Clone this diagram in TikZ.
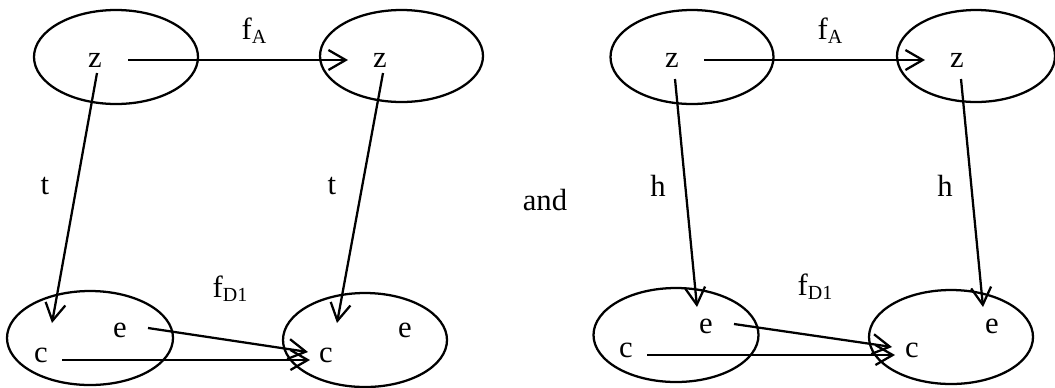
\documentclass[tikz,border=0pt]{standalone}
\usepackage{fontspec}
\setmainfont{Liberation Serif}
\usetikzlibrary{arrows.meta,shapes.geometric}
\tikzset{
  >={Straight Barb[length=13pt,width=15pt]},
  set/.style 2 args={ellipse,draw,line width=1.7pt,inner sep=0pt,
    minimum width={1.5pt*#1},minimum height={1.5pt*#2}},
  elem/.style={inner sep=0pt,font=\fontsize{23}{27}\selectfont},
  map/.style={->,line width=1.7pt},
}
\newcommand{\idx}[1]{\raisebox{-0.3ex}{\fontsize{15}{17}\selectfont #1}}

\begin{document}
\begin{tikzpicture}[x=0.75pt,y=-0.75pt]
  \useasboundingbox (0,0) rectangle (1055,387);
  % left square
  \node[set={82}{47}] (A1) at (116,57) {};
  \node[set={81.5}{46}] (A2) at (401.5,56) {};
  \node[set={83}{47}] (D1) at (90,338) {};
  \node[set={82}{47}] (D2) at (365,340) {};
  \node[elem] (z1) at (95,60) {z};
  \node[elem] (z2) at (380,60) {z};
  \node[elem] (c1) at (41,355) {c};
  \node[elem] (e1) at (120,330) {e};
  \node[elem] (c2) at (326,355) {c};
  \node[elem] (e2) at (405,330) {e};
  \node[elem] (fA1) at (254,31) {f\idx{A}};
  \node[elem] (fD1) at (230,289) {f\idx{D1}};
  \node[elem] (t1) at (45,186) {t};
  \node[elem] (t2) at (332,186) {t};
  \draw[map] ([shift={(33,0)}]z1.center) -- ([shift={(-32,0)}]z2.center);
  \draw[map] ([shift={(2,13)}]z1.center) -- ([shift={(11,-32)}]c1.center);
  \draw[map] ([shift={(3,13)}]z2.center) -- ([shift={(11,-32)}]c2.center);
  \draw[map] ([shift={(21,5)}]c1.center) -- ([shift={(-16,5)}]c2.center);
  \draw[map] ([shift={(28,-2)}]e1.center) -- ([shift={(-18,-3)}]c2.center);

  \node[elem] (and) at (545,200) {and};

  % right square
  \node[set={81.5}{47}] (B1) at (692,57) {};
  \node[set={79}{46}] (B2) at (976,56) {};
  \node[set={82.5}{47}] (G1) at (676,335) {};
  \node[set={82}{47}] (G2) at (951,337) {};
  \node[elem] (z3) at (672,60) {z};
  \node[elem] (z4) at (957,60) {z};
  \node[elem] (c3) at (626,350) {c};
  \node[elem] (e3) at (706,326) {e};
  \node[elem] (c4) at (912,350) {c};
  \node[elem] (e4) at (992,326) {e};
  \node[elem] (fA2) at (830,31) {f\idx{A}};
  \node[elem] (fD2) at (815,287) {f\idx{D1}};
  \node[elem] (h1) at (658,186) {h};
  \node[elem] (h2) at (945,186) {h};
  \draw[map] ([shift={(32,0)}]z3.center) -- ([shift={(-32,0)}]z4.center);
  \draw[map] ([shift={(3,19)}]z3.center) -- ([shift={(-9,-19)}]e3.center);
  \draw[map] ([shift={(4,19)}]z4.center) -- ([shift={(-9,-19)}]e4.center);
  \draw[map] ([shift={(21,5)}]c3.center) -- ([shift={(-17,5)}]c4.center);
  \draw[map] ([shift={(28,-2)}]e3.center) -- ([shift={(-20,-3)}]c4.center);
\end{tikzpicture}
\end{document}
